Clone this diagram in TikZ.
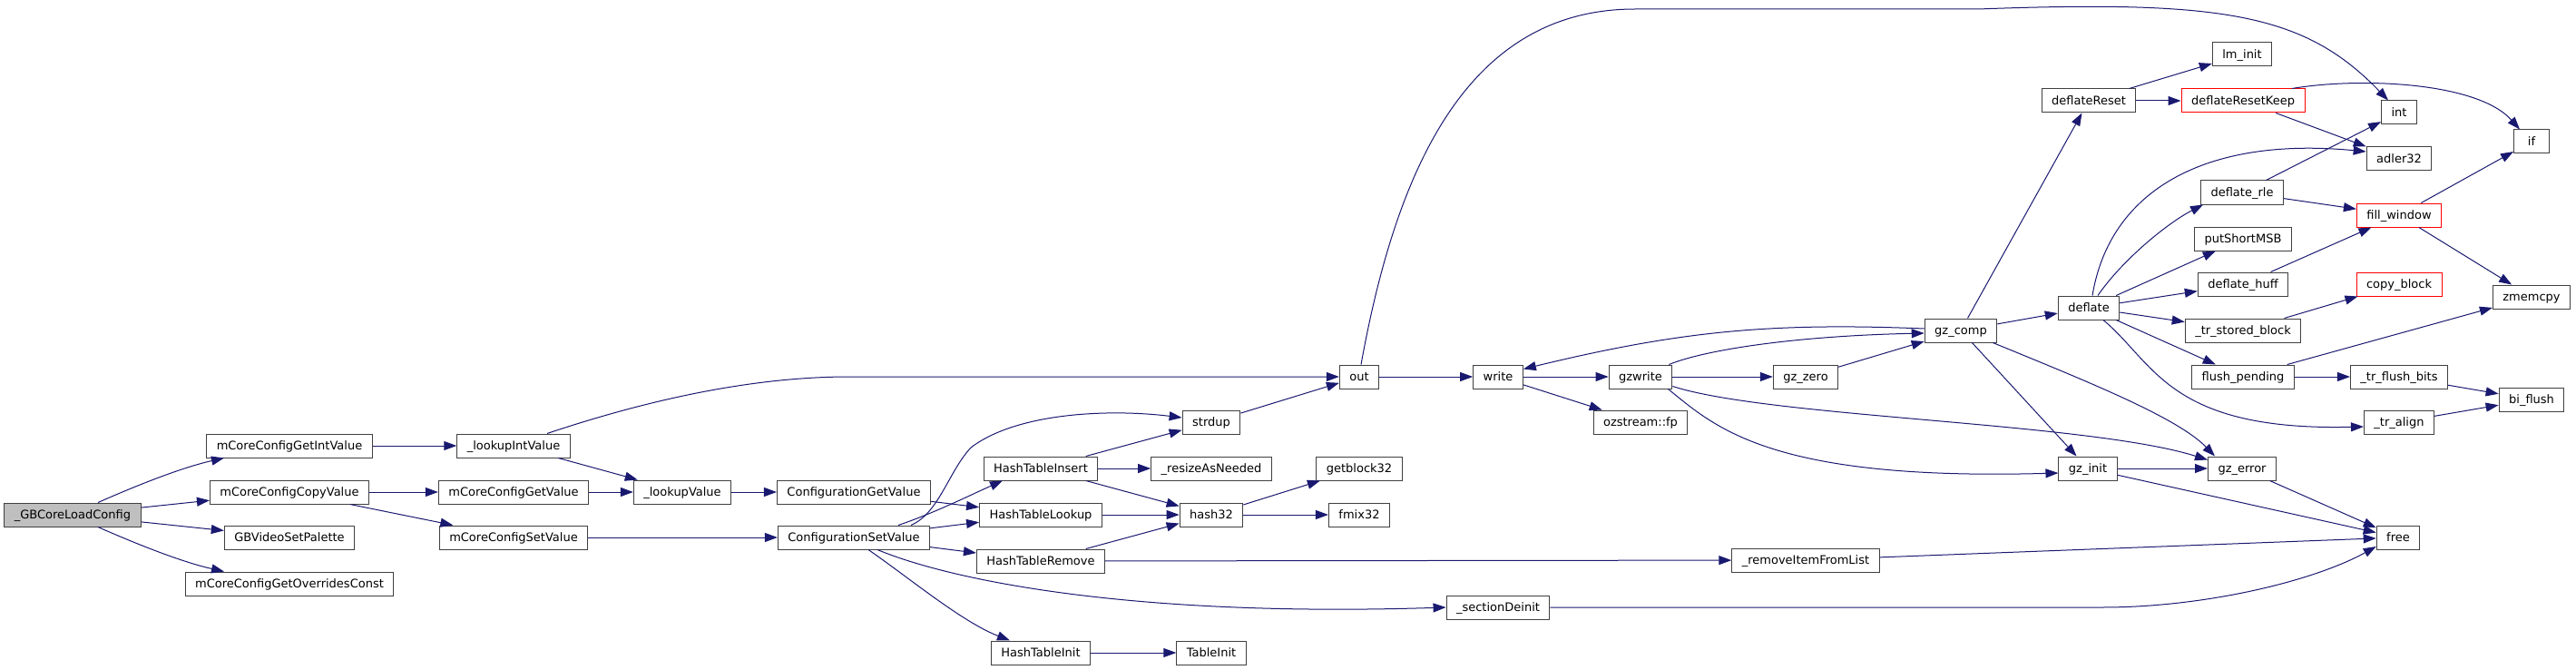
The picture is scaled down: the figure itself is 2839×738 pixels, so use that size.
\documentclass[tikz,border=0pt]{standalone}
\usepackage{fontspec}
\setmainfont{DejaVu Sans}
\usepackage{xcolor}
\usetikzlibrary{shapes,arrows.meta,positioning,calc}
\definecolor{callblue}{HTML}{191970}
\definecolor{boxgray}{HTML}{404040}
\definecolor{rootgray}{HTML}{BFBFBF}
\tikzset{
    fnbox/.style={
        rectangle,
        draw=boxgray,
        line width=1pt,
        fill=white,
        inner xsep=11pt,
        inner ysep=0pt,
        minimum width=39pt,
        minimum height=26pt,
        text height=11pt,
        text depth=2pt,
        font=\fontsize{13}{15}\selectfont
    },
    rootbox/.style={fnbox, fill=rootgray},
    redbox/.style={fnbox, draw=red}, % functions with more callees
    call/.style={
        draw=callblue,
        line width=1pt,
        -{Triangle[length=14pt,width=10pt]}
    }
}
\begin{document}
\begin{tikzpicture}[x=1pt, y=-1pt]
    \useasboundingbox (0,0) rectangle (2839,738);

    \node (gb) [rootbox] at (80,567) {\_GBCoreLoadConfig};
    \node (cintv) [fnbox] at (319,491) {mCoreConfigGetIntValue};
    \node (ccopy) [fnbox] at (319,542) {mCoreConfigCopyValue};
    \node (palette) [fnbox] at (319,592) {GBVideoSetPalette};
    \node (overr) [fnbox] at (319,643) {mCoreConfigGetOverridesConst};
    \node (lookint) [fnbox] at (566,491) {\_lookupIntValue};
    \node (cgetv) [fnbox] at (566,542) {mCoreConfigGetValue};
    \node (csetv) [fnbox] at (566,592) {mCoreConfigSetValue};
    \node (lookv) [fnbox] at (752,542) {\_lookupValue};
    \node (confget) [fnbox] at (941,542) {ConfigurationGetValue};
    \node (confset) [fnbox] at (941,592) {ConfigurationSetValue};
    \node (htins) [fnbox] at (1147,516) {HashTableInsert};
    \node (htlook) [fnbox] at (1147,567) {HashTableLookup};
    \node (htrem) [fnbox] at (1147,618) {HashTableRemove};
    \node (htinit) [fnbox] at (1147,719) {HashTableInit};
    \node (strdup) [fnbox] at (1335,465) {strdup};
    \node (resize) [fnbox] at (1335,516) {\_resizeAsNeeded};
    \node (hash) [fnbox] at (1335,567) {hash32};
    \node (tinit) [fnbox] at (1335,719) {TableInit};
    \node (out) [fnbox] at (1498,415) {out};
    \node (getblk) [fnbox] at (1498,516) {getblock32};
    \node (fmix) [fnbox] at (1498,567) {fmix32};
    \node (write) [fnbox] at (1651,415) {write};
    \node (secdeinit) [fnbox] at (1651,669) {\_sectionDeinit};
    \node (gzwrite) [fnbox] at (1808,415) {gzwrite};
    \node (ozfp) [fnbox] at (1808,465) {ozstream::fp};
    \node (gzzero) [fnbox] at (1990,415) {gz\_zero};
    \node (remitem) [fnbox] at (1990,617) {\_removeItemFromList};
    \node (gzcomp) [fnbox] at (2161,364) {gz\_comp};
    \node (dreset) [fnbox] at (2302,111) {deflateReset};
    \node (deflate) [fnbox] at (2302,339) {deflate};
    \node (gzinit) [fnbox] at (2301,516) {gz\_init};
    \node (lminit) [fnbox] at (2471,60) {lm\_init};
    \node (dkeep) [redbox] at (2472,111) {deflateResetKeep};
    \node (drle) [fnbox] at (2471,212) {deflate\_rle};
    \node (putmsb) [fnbox] at (2472,263) {putShortMSB};
    \node (dhuff) [fnbox] at (2472,313) {deflate\_huff};
    \node (trstored) [fnbox] at (2472,364) {\_tr\_stored\_block};
    \node (flushp) [fnbox] at (2472,415) {flush\_pending};
    \node (gzerr) [fnbox] at (2471,516) {gz\_error};
    \node (intn) [fnbox] at (2644,124) {int};
    \node (adler) [fnbox] at (2644,175) {adler32};
    \node (fillw) [redbox] at (2644,237) {fill\_window};
    \node (copyb) [redbox] at (2644,313) {copy\_block};
    \node (trflush) [fnbox] at (2644,415) {\_tr\_flush\_bits};
    \node (tralign) [fnbox] at (2644,465) {\_tr\_align};
    \node (free) [fnbox] at (2643,592) {free};
    \node (ifn) [fnbox] at (2790,156) {if};
    \node (zmem) [fnbox] at (2790,327) {zmemcpy};
    \node (biflush) [fnbox] at (2790,440) {bi\_flush};

    % config side
    \draw [call] ([xshift=28pt]gb.north) .. controls (150,535) and (200,515) .. ([xshift=-72pt]cintv.south);
    \draw [call] (gb) -- (ccopy);
    \draw [call] (gb) -- (palette);
    \draw [call] ([xshift=28pt]gb.south) .. controls (150,599) and (200,619) .. ([xshift=-72pt]overr.north);
    \draw [call] (cintv) -- (lookint);
    \draw [call] (ccopy) -- (cgetv);
    \draw [call] (ccopy) -- (csetv);
    \draw [call] ([xshift=37pt]lookint.north) .. controls (700,445) and (820,415) .. (936,415) -- (out);
    \draw [call] (lookint) -- (lookv);
    \draw [call] (cgetv) -- (lookv);
    \draw [call] (lookv) -- (confget);
    \draw [call] (csetv) -- (confset);
    \draw [call] (confget) -- (htlook);
    \draw [call] ([xshift=63pt]confset.north) .. controls (1035,565) and (1045,520) .. (1070,493) .. controls (1120,455) and (1220,450) .. ([yshift=5pt]strdup.west);
    \draw [call] ([xshift=49pt]confset.north) .. controls (1030,565) and (1070,545) .. ([xshift=-42pt]htins.south);
    \draw [call] (confset) -- (htlook);
    \draw [call] (confset) -- (htrem);
    \draw [call] ([xshift=26pt]confset.south) .. controls (1050,640) and (1250,680) .. (secdeinit.west);
    \draw [call] ([xshift=16pt]confset.south) .. controls (1000,635) and (1060,685) .. ([xshift=-34pt]htinit.north);

    % hash table
    \draw [call] (htins) -- (strdup);
    \draw [call] (htins) -- (resize);
    \draw [call] (htins) -- (hash);
    \draw [call] (htlook) -- (hash);
    \draw [call] (htrem) -- (hash);
    \draw [call] (htrem) -- (remitem);
    \draw [call] (htinit) -- (tinit);
    \draw [call] (strdup) -- (out);
    \draw [call] (hash) -- (getblk);
    \draw [call] (hash) -- (fmix);

    % zlib side
    \draw [call] (out) -- (write);
    \draw [call] ([xshift=2pt]out.north) .. controls (1540,180) and (1620,10) .. (1802,10) -- (2180,10) .. controls (2450,0) and (2540,15) .. ([xshift=-12pt]intn.north);
    \draw [call] (write) -- (gzwrite);
    \draw [call] (write) -- (ozfp);
    \draw [call] ([xshift=-4pt]gzwrite.north east) .. controls (1880,385) and (1980,370) .. ([yshift=-3pt]gzcomp.west);
    \draw [call] (gzwrite) -- (gzzero);
    \draw [call] ([xshift=-5pt]gzwrite.south east) .. controls (1890,470) and (1950,530) .. ([yshift=-5pt]gzinit.west);
    \draw [call] ([yshift=3pt]gzwrite.south east) .. controls (1950,460) and (2300,465) .. ([yshift=-4pt]gzerr.north west);
    \draw [call] ([yshift=2pt]gzcomp.west) .. controls (1950,355) and (1850,365) .. ([yshift=-5pt]write.north east);
    \draw [call] (gzzero) -- (gzcomp);
    \draw [call] (gzcomp) -- (dreset);
    \draw [call] (gzcomp) -- (deflate);
    \draw [call] (gzcomp) -- (gzinit);
    \draw [call] ([xshift=-5pt]gzcomp.south east) .. controls (2300,420) and (2400,460) .. ([xshift=-30pt]gzerr.north);
    \draw [call] (dreset) -- (lminit);
    \draw [call] (dreset) -- (dkeep);
    \draw [call] ([xshift=54pt]dkeep.north) .. controls (2600,85) and (2730,90) .. ([xshift=-13pt]ifn.north);
    \draw [call] (dkeep) -- (adler);
    \draw [call] ([xshift=4pt]deflate.north) .. controls (2325,210) and (2430,150) .. ([yshift=8pt]adler.west);
    \draw [call] ([xshift=10pt]deflate.north) .. controls (2340,285) and (2390,245) .. ([xshift=3pt]drle.south west);
    \draw [call] (deflate) -- (putmsb);
    \draw [call] (deflate) -- (dhuff);
    \draw [call] (deflate) -- (trstored);
    \draw [call] (deflate) -- (flushp);
    \draw [call] ([xshift=16pt]deflate.south) .. controls (2375,400) and (2390,475) .. ([yshift=-5pt]tralign.west);
    \draw [call] (drle) -- (intn);
    \draw [call] (drle) -- (fillw);
    \draw [call] (fillw) -- (ifn);
    \draw [call] (fillw) -- (zmem);
    \draw [call] (dhuff) -- (fillw);
    \draw [call] (trstored) -- (copyb);
    \draw [call] (flushp) -- (zmem);
    \draw [call] (flushp) -- (trflush);
    \draw [call] (trflush) -- (biflush);
    \draw [call] (tralign) -- (biflush);
    \draw [call] (gzinit) -- (gzerr);
    \draw [call] (gzinit) -- (free);
    \draw [call] (gzerr) -- (free);
    \draw [call] (remitem) -- (free);
    \draw [call] (secdeinit) -- (2317,669) .. controls (2430,669) and (2550,640) .. ([yshift=-10pt]free.west);
\end{tikzpicture}
\end{document}
